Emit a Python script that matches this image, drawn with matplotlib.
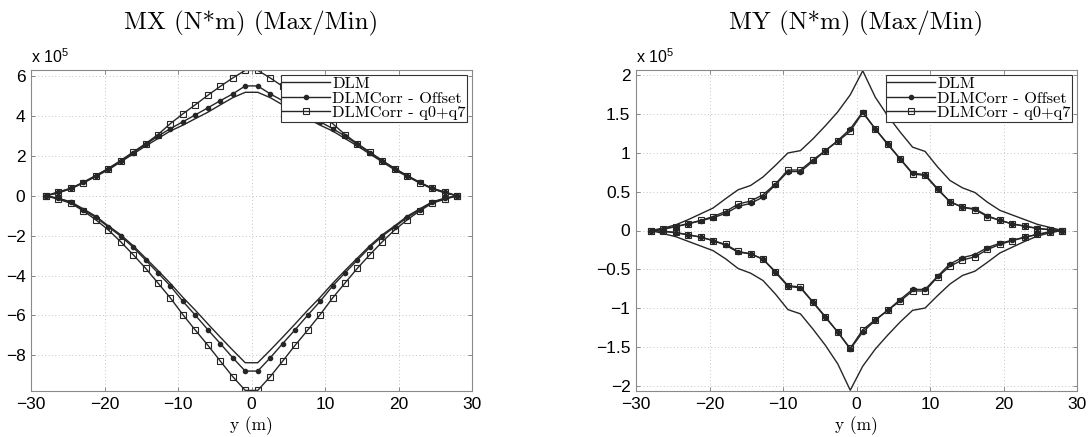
import matplotlib
matplotlib.use("Agg")
import matplotlib.pyplot as plt
from matplotlib.ticker import FuncFormatter
from matplotlib.lines import Line2D

# Spanwise stations y (m), wing tip to wing tip
y_m = [-27.98, -26.29, -24.59, -22.90, -21.20, -19.51, -17.81, -16.11, -14.42,
       -12.72, -11.03, -9.33, -7.63, -5.94, -4.24, -2.55, -0.85,
       0.85, 2.55, 4.24, 5.94, 7.63, 9.33, 11.03, 12.72,
       14.42, 16.11, 17.81, 19.51, 21.20, 22.90, 24.59, 26.29, 27.98]

# MX envelopes (x 1e5 N*m)
mx_dlm_max = [0, 0.15, 0.35, 0.64, 0.97, 1.30, 1.70, 2.10, 2.50, 2.88, 3.26, 3.55,
              3.88, 4.20, 4.57, 4.93, 5.20,
              5.20, 4.93, 4.57, 4.20, 3.88, 3.55, 3.26, 2.88, 2.50, 2.10, 1.70,
              1.30, 0.97, 0.64, 0.35, 0.15, 0]
mx_dlm_min = [0, -0.12, -0.30, -0.65, -1.02, -1.50, -1.95, -2.50, -3.12, -3.75,
              -4.40, -5.10, -5.75, -6.43, -7.10, -7.75, -8.38,
              -8.38, -7.75, -7.10, -6.43, -5.75, -5.10, -4.40, -3.75, -3.12,
              -2.50, -1.95, -1.50, -1.02, -0.65, -0.30, -0.12, 0]
mx_off_max = [0, 0.17, 0.37, 0.68, 1.02, 1.36, 1.75, 2.17, 2.58, 3.00, 3.38, 3.72,
              4.07, 4.42, 4.78, 5.12, 5.52,
              5.52, 5.12, 4.78, 4.42, 4.07, 3.72, 3.38, 3.00, 2.58, 2.17, 1.75,
              1.36, 1.02, 0.68, 0.37, 0.17, 0]
mx_off_min = [0, -0.13, -0.33, -0.70, -1.08, -1.55, -2.02, -2.58, -3.22, -3.87,
              -4.53, -5.30, -6.00, -6.72, -7.42, -8.13, -8.80,
              -8.80, -8.13, -7.42, -6.72, -6.00, -5.30, -4.53, -3.87, -3.22,
              -2.58, -2.02, -1.55, -1.08, -0.70, -0.33, -0.13, 0]
mx_q07_max = [0, 0.20, 0.38, 0.67, 1.00, 1.37, 1.77, 2.20, 2.62, 3.08, 3.63, 4.12,
              4.58, 5.05, 5.50, 5.92, 6.30,
              6.30, 5.92, 5.50, 5.05, 4.58, 4.12, 3.63, 3.08, 2.62, 2.20, 1.77,
              1.37, 1.00, 0.67, 0.38, 0.20, 0]
mx_q07_min = [0, -0.17, -0.37, -0.75, -1.20, -1.70, -2.30, -2.95, -3.63, -4.38,
              -5.13, -5.97, -6.75, -7.50, -8.30, -9.08, -9.77,
              -9.77, -9.08, -8.30, -7.50, -6.75, -5.97, -5.13, -4.38, -3.63,
              -2.95, -2.30, -1.70, -1.20, -0.75, -0.37, -0.17, 0]

# MY envelopes (x 1e5 N*m)
my_dlm_max = [0, 0.03, 0.073, 0.14, 0.215, 0.29, 0.41, 0.525, 0.58, 0.69, 0.84,
              1.00, 1.03, 1.18, 1.35, 1.53, 1.75,
              2.06, 1.72, 1.48, 1.27, 1.075, 1.02, 0.82, 0.645, 0.55, 0.49,
              0.365, 0.26, 0.20, 0.14, 0.08, 0.04, 0]
my_dlm_min = [0, -0.04, -0.08, -0.14, -0.20, -0.26, -0.365, -0.49, -0.55, -0.645,
              -0.82, -1.02, -1.075, -1.27, -1.48, -1.72, -2.06,
              -1.75, -1.53, -1.35, -1.18, -1.03, -1.00, -0.84, -0.69, -0.58,
              -0.525, -0.41, -0.29, -0.215, -0.14, -0.073, -0.03, 0]
my_off_max = [0, 0.02, 0.05, 0.085, 0.125, 0.165, 0.22, 0.31, 0.35, 0.43, 0.59,
              0.76, 0.76, 0.89, 1.03, 1.16, 1.31,
              1.53, 1.31, 1.12, 0.925, 0.74, 0.72, 0.54, 0.37, 0.30, 0.28,
              0.19, 0.13, 0.086, 0.056, 0.03, 0.01, 0]
my_off_min = [0, -0.01, -0.03, -0.056, -0.086, -0.13, -0.19, -0.28, -0.30, -0.37,
              -0.54, -0.72, -0.74, -0.925, -1.12, -1.31, -1.53,
              -1.31, -1.16, -1.03, -0.89, -0.76, -0.76, -0.59, -0.43, -0.35,
              -0.31, -0.22, -0.165, -0.125, -0.085, -0.05, -0.02, 0]
my_q07_max = [0, 0.02, 0.05, 0.09, 0.13, 0.18, 0.245, 0.34, 0.38, 0.46, 0.60,
              0.78, 0.78, 0.91, 1.03, 1.15, 1.28,
              1.52, 1.31, 1.11, 0.92, 0.73, 0.71, 0.53, 0.37, 0.30, 0.27,
              0.18, 0.13, 0.085, 0.055, 0.025, 0.01, 0]
my_q07_min = [0, -0.01, -0.025, -0.055, -0.085, -0.13, -0.18, -0.27, -0.30, -0.37,
              -0.53, -0.71, -0.73, -0.92, -1.11, -1.31, -1.52,
              -1.28, -1.15, -1.03, -0.91, -0.78, -0.78, -0.60, -0.46, -0.38,
              -0.34, -0.245, -0.18, -0.13, -0.09, -0.05, -0.02, 0]

labels = ["DLM", "DLMCorr - Offset", "DLMCorr - q0+q7"]
x_ticks = [-30, -20, -10, 0, 10, 20, 30]
mx_ticks = [-8, -6, -4, -2, 0, 2, 4, 6]
my_ticks = [-2, -1.5, -1, -0.5, 0, 0.5, 1, 1.5, 2]

LINE = "#262626"
SERIF = "cmr10"
SANS = "Liberation Sans"

STYLES = [
    dict(color=LINE, lw=1.0),
    dict(color=LINE, lw=1.0, marker="o", ms=3.0, mfc=LINE, mec=LINE),
    dict(color=LINE, lw=1.0, marker="s", ms=4.0, mfc="none", mec=LINE, mew=0.8),
]


def fmt(v, _pos):
    s = "%g" % v
    return s.replace("-", "\u2212")


def panel(ax, title, series, yticks, ylim):
    for (ymax, ymin), st in zip(series, STYLES):
        ax.plot(y_m, ymax, **st)
        ax.plot(y_m, ymin, **st)
    ax.set_xlim(-30, 30)
    ax.set_ylim(*ylim)
    ax.set_xticks(x_ticks)
    ax.set_yticks(yticks)
    ax.xaxis.set_major_formatter(FuncFormatter(fmt))
    ax.yaxis.set_major_formatter(FuncFormatter(fmt))
    for lab in ax.get_xticklabels() + ax.get_yticklabels():
        lab.set_fontfamily(SANS)
        lab.set_fontsize(12.5)
    ax.tick_params(direction="in", length=3, width=0.6, color="#777777",
                   top=True, right=True, pad=4)
    ax.grid(True, color="#c4c4c4", linestyle=(0, (1, 2.5)), linewidth=0.7)
    for sp in ax.spines.values():
        sp.set_color("#8a8a8a")
        sp.set_linewidth(0.8)
    ax.set_title(title, fontfamily=SERIF, fontsize=18, pad=29)
    ax.set_xlabel("y (m)", fontfamily=SERIF, fontsize=12.5, labelpad=3.5)
    ax.text(0.0, 1.012, r"x 10$\mathregular{^5}$", transform=ax.transAxes,
            fontfamily=SANS, fontsize=11.5, ha="left", va="bottom")
    handles = [Line2D([], [], **st) for st in STYLES]
    leg = ax.legend(handles, labels, loc="upper right", prop={"family": SERIF, "size": 11.8},
                    frameon=True, fancybox=False, borderpad=0.1, labelspacing=0.0,
                    handlelength=2.9, handletextpad=0.12, borderaxespad=0.3,
                    framealpha=1)
    leg.get_frame().set_edgecolor("#333333")
    leg.get_frame().set_linewidth(0.8)


fig = plt.figure(figsize=(10.91, 4.37), dpi=100)
ax1 = fig.add_axes([31 / 1091, 46 / 437, 441 / 1091, 321 / 437])
ax2 = fig.add_axes([636 / 1091, 46 / 437, 441 / 1091, 321 / 437])

panel(ax1, "MX (N*m) (Max/Min)",
      [(mx_dlm_max, mx_dlm_min), (mx_off_max, mx_off_min), (mx_q07_max, mx_q07_min)],
      mx_ticks, (-9.8, 6.32))
panel(ax2, "MY (N*m) (Max/Min)",
      [(my_dlm_max, my_dlm_min), (my_off_max, my_off_min), (my_q07_max, my_q07_min)],
      my_ticks, (-2.07, 2.07))

fig.savefig("out.png", dpi=100)
